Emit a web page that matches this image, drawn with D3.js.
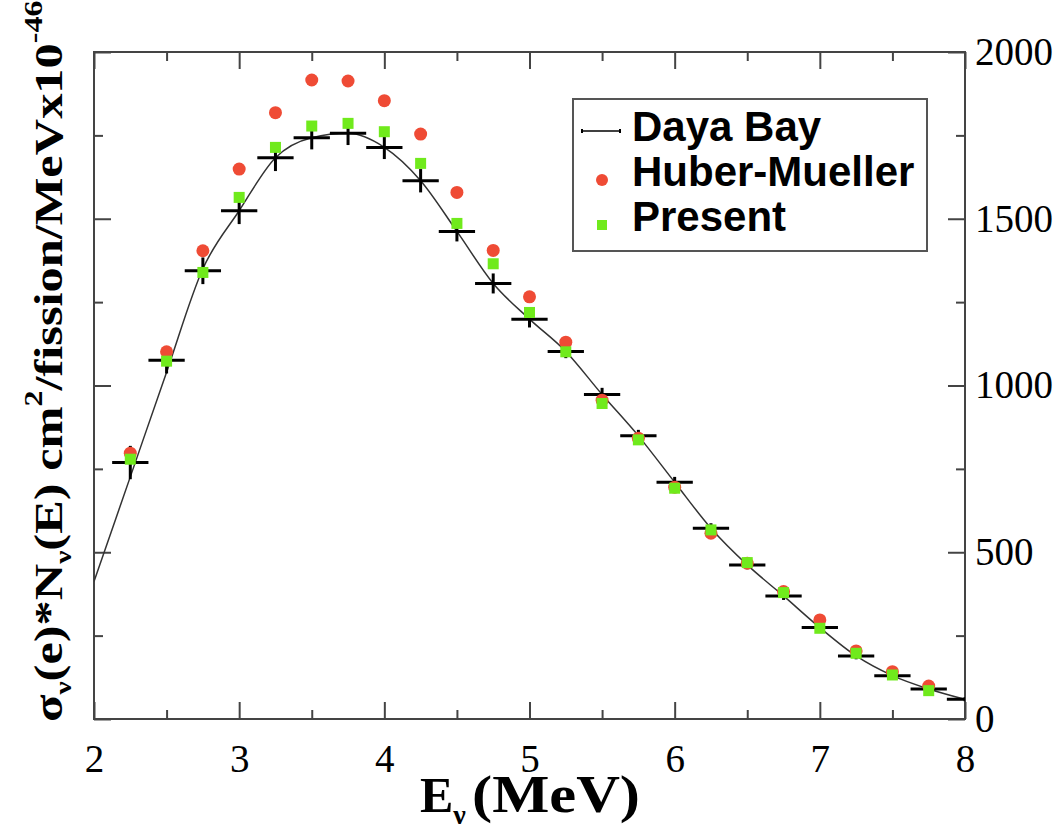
<!DOCTYPE html>
<html>
<head>
<meta charset="utf-8">
<script src="https://cdn.jsdelivr.net/npm/d3@7"></script>
<style>
    body { margin: 0; background: #fff; }
    .tickLabel { font-family: "Liberation Serif", "Times New Roman", serif; font-size: 39px; fill: #000; }
</style>
</head>
<body>
<div id="plot"></div>
<script>
// Energy bins (MeV) for the model points and the Daya Bay crosses
let energies = [2.25, 2.5, 2.75, 3.0, 3.25, 3.5, 3.75, 4.0, 4.25, 4.5, 4.75, 5.0,
    5.25, 5.5, 5.75, 6.0, 6.25, 6.5, 6.75, 7.0, 7.25, 7.5, 7.75];
let hmValues = [797, 1101, 1404, 1649, 1818, 1916, 1913, 1854, 1754, 1579, 1405, 1266,
    1130, 956, 842, 695, 557, 467, 382, 297, 204, 142, 99];
let presentValues = [779, 1073, 1339, 1564, 1714, 1778, 1786, 1761, 1666, 1486, 1365, 1219,
    1101, 946, 837, 692, 567, 469, 379, 272, 197, 132, 85];

let dayaEnergies = [2.25, 2.5, 2.75, 3.0, 3.25, 3.5, 3.75, 4.0, 4.25, 4.5, 4.75, 5.0,
    5.25, 5.5, 5.75, 6.0, 6.25, 6.5, 6.75, 7.0, 7.25, 7.5, 7.75, 8.0];
let dayaValues = [769, 1076, 1344, 1524, 1683, 1743, 1756, 1714, 1614, 1462, 1306, 1199,
    1102, 973, 849, 710, 572, 462, 369, 274, 189, 130, 90, 59];
let dayaErrors = [50, 40, 40, 40, 40, 35, 35, 35, 35, 30, 30, 25,
    20, 20, 18, 16, 15, 13, 12, 10, 10, 8, 8, 6];

// Daya Bay curve
let curveEnergies = [2.0, 2.25, 2.5, 2.75, 3.0, 3.25, 3.5, 3.75, 4.0, 4.25, 4.5, 4.75, 5.0,
    5.25, 5.5, 5.75, 6.0, 6.25, 6.5, 6.75, 7.0, 7.25, 7.5, 7.75, 8.0];
let curveValues = [412, 726, 1040, 1350, 1524, 1683, 1743, 1756, 1714, 1614, 1462, 1306, 1199,
    1102, 973, 849, 710, 572, 462, 369, 274, 189, 130, 90, 59];

let xMajorTicks = [2, 3, 4, 5, 6, 7, 8];
let xMinorTicks = [2.5, 3.5, 4.5, 5.5, 6.5, 7.5];
let yMajorTicks = [0, 500, 1000, 1500, 2000];
let yMinorTicks = [250, 750, 1250, 1750];

let legendNames = ['Daya Bay', 'Huber-Mueller', 'Present'];

let svgWidth = 1057;
let svgHeight = 833;

let margin = {
    top: 52,
    right: 92,
    bottom: 114,
    left: 94
};

let chartWidth = svgWidth - margin.left - margin.right;
let chartHeight = svgHeight - margin.top - margin.bottom;

let red = '#ef4b35';
let green = '#70ea1c';
let frameColor = '#444';

let $svg = d3.select('#plot')
    .append('svg')
    .attr('width', svgWidth)
    .attr('height', svgHeight);

$svg.append('defs').append('clipPath')
    .attr('id', 'plotClip')
    .append('rect')
    .attr('width', chartWidth)
    .attr('height', chartHeight);

let chartGroup = $svg.append('g')
    .attr('transform', `translate(${margin.left}, ${margin.top})`);

let xScale = d3.scaleLinear().domain([2, 8]).range([0, chartWidth]);
let yScale = d3.scaleLinear().domain([0, 2000]).range([chartHeight, 0]);

// Axes: ticks on all four sides, pointing inward; labels only bottom and right
function drawAxis(axisFn, scale, values, size, padding, transform) {
    let axis = axisFn(scale)
        .tickValues(values)
        .tickSizeInner(-size)
        .tickSizeOuter(0)
        .tickPadding(padding || 0)
        .tickFormat(padding ? d3.format('d') : '');
    let g = chartGroup.append('g')
        .attr('transform', transform)
        .call(axis);
    g.select('.domain').remove();
    g.selectAll('.tick line').attr('stroke', frameColor).attr('stroke-width', 2);
    return g;
}

drawAxis(d3.axisBottom, xScale, xMajorTicks, 17, 25, `translate(0, ${chartHeight})`);
drawAxis(d3.axisBottom, xScale, xMinorTicks, 9, 0, `translate(0, ${chartHeight})`);
drawAxis(d3.axisTop, xScale, xMajorTicks, 17, 0, 'translate(0, 0)');
drawAxis(d3.axisTop, xScale, xMinorTicks, 9, 0, 'translate(0, 0)');

drawAxis(d3.axisLeft, yScale, yMajorTicks, 17, 0, 'translate(0, 0)');
drawAxis(d3.axisLeft, yScale, yMinorTicks, 9, 0, 'translate(0, 0)');
drawAxis(d3.axisRight, yScale, yMajorTicks, 17, 10, `translate(${chartWidth}, 0)`);
drawAxis(d3.axisRight, yScale, yMinorTicks, 9, 0, `translate(${chartWidth}, 0)`);

chartGroup.selectAll('.tick text')
    .attr('class', 'tickLabel')
    .attr('font-family', null)
    .attr('font-size', null);

// Frame
chartGroup.append('rect')
    .attr('width', chartWidth)
    .attr('height', chartHeight)
    .attr('fill', 'none')
    .attr('stroke', frameColor)
    .attr('stroke-width', 2);

let plotArea = chartGroup.append('g').attr('clip-path', 'url(#plotClip)');

// Daya Bay curve
let line = d3.line()
    .x((d, i) => xScale(curveEnergies[i]))
    .y(d => yScale(d))
    .curve(d3.curveMonotoneX);

plotArea.append('path')
    .datum(curveValues)
    .attr('d', line)
    .attr('fill', 'none')
    .attr('stroke', '#333')
    .attr('stroke-width', 1.5);

// Daya Bay crosses: bin width and error bar
let crossGroup = plotArea.selectAll('.cross')
    .data(dayaValues)
    .enter()
    .append('g')
    .attr('class', 'cross');

crossGroup.append('line')
    .attr('x1', (d, i) => xScale(dayaEnergies[i] - 0.125))
    .attr('x2', (d, i) => xScale(dayaEnergies[i] + 0.125))
    .attr('y1', d => yScale(d))
    .attr('y2', d => yScale(d))
    .attr('stroke', '#000')
    .attr('stroke-width', 3);

crossGroup.append('line')
    .attr('x1', (d, i) => xScale(dayaEnergies[i]))
    .attr('x2', (d, i) => xScale(dayaEnergies[i]))
    .attr('y1', (d, i) => yScale(d + dayaErrors[i]))
    .attr('y2', (d, i) => yScale(d - dayaErrors[i]))
    .attr('stroke', '#000')
    .attr('stroke-width', 3);

// Huber-Mueller circles
plotArea.selectAll('.hm')
    .data(hmValues)
    .enter()
    .append('circle')
    .attr('class', 'hm')
    .attr('cx', (d, i) => xScale(energies[i]))
    .attr('cy', d => yScale(d))
    .attr('r', 6.5)
    .attr('fill', red);

// Present squares
plotArea.selectAll('.present')
    .data(presentValues)
    .enter()
    .append('rect')
    .attr('class', 'present')
    .attr('x', (d, i) => xScale(energies[i]) - 5.5)
    .attr('y', d => yScale(d) - 5.5)
    .attr('width', 11)
    .attr('height', 11)
    .attr('fill', green);

// Legend
let legend = $svg.append('g').attr('transform', 'translate(573, 99)');
legend.append('rect')
    .attr('width', 354)
    .attr('height', 152)
    .attr('fill', '#fff')
    .attr('stroke', '#555')
    .attr('stroke-width', 2);

legend.selectAll('.legendText')
    .data(legendNames)
    .enter()
    .append('text')
    .attr('class', 'legendText')
    .attr('x', 59)
    .attr('y', (d, i) => 42 + i * 45)
    .attr('font-family', '"Liberation Sans", Arial, sans-serif')
    .attr('font-weight', 'bold')
    .attr('font-size', '42px')
    .text(d => d);

legend.append('line')
    .attr('x1', 9).attr('x2', 47)
    .attr('y1', 32).attr('y2', 32)
    .attr('stroke', '#000')
    .attr('stroke-width', 1.5);
legend.selectAll('.cap')
    .data([9, 47])
    .enter()
    .append('line')
    .attr('x1', d => d).attr('x2', d => d)
    .attr('y1', 30).attr('y2', 34)
    .attr('stroke', '#000')
    .attr('stroke-width', 2);
legend.append('circle')
    .attr('cx', 29).attr('cy', 81)
    .attr('r', 6)
    .attr('fill', red);
legend.append('rect')
    .attr('x', 24).attr('y', 121)
    .attr('width', 10).attr('height', 10)
    .attr('fill', green);

// x-axis label
let xLabel = $svg.append('text')
    .attr('x', 420)
    .attr('y', 812)
    .attr('font-family', '"Liberation Serif", "Times New Roman", serif')
    .attr('font-weight', 'bold')
    .attr('font-size', '50px');
xLabel.append('tspan').text('E');
xLabel.append('tspan').attr('font-size', '28px').attr('dy', 12).text('ν');
xLabel.append('tspan')
    .attr('x', 472)
    .attr('dy', -12)
    .attr('font-size', '52px')
    .attr('textLength', 168)
    .attr('lengthAdjust', 'spacingAndGlyphs')
    .text('(MeV)');

// y-axis label
let yLabel = $svg.append('text')
    .attr('transform', 'translate(62, 722) rotate(-90) scale(1.23, 1)')
    .attr('font-family', '"Liberation Serif", "Times New Roman", serif')
    .attr('font-weight', 'bold')
    .attr('font-size', '41px');
yLabel.append('tspan').text('σ');
yLabel.append('tspan').attr('font-size', '24px').attr('dy', 9).text('ν');
yLabel.append('tspan').attr('dy', -9).text('(e)*N');
yLabel.append('tspan').attr('font-size', '24px').attr('dy', 9).text('ν');
yLabel.append('tspan').attr('dy', -9).text('(E) cm');
yLabel.append('tspan').attr('font-size', '26px').attr('dy', -20).text('2');
yLabel.append('tspan').attr('dy', 20).text('/fission/MeVx10');
yLabel.append('tspan').attr('font-size', '26px').attr('dy', -20).text('-46');
</script>
</body>
</html>
